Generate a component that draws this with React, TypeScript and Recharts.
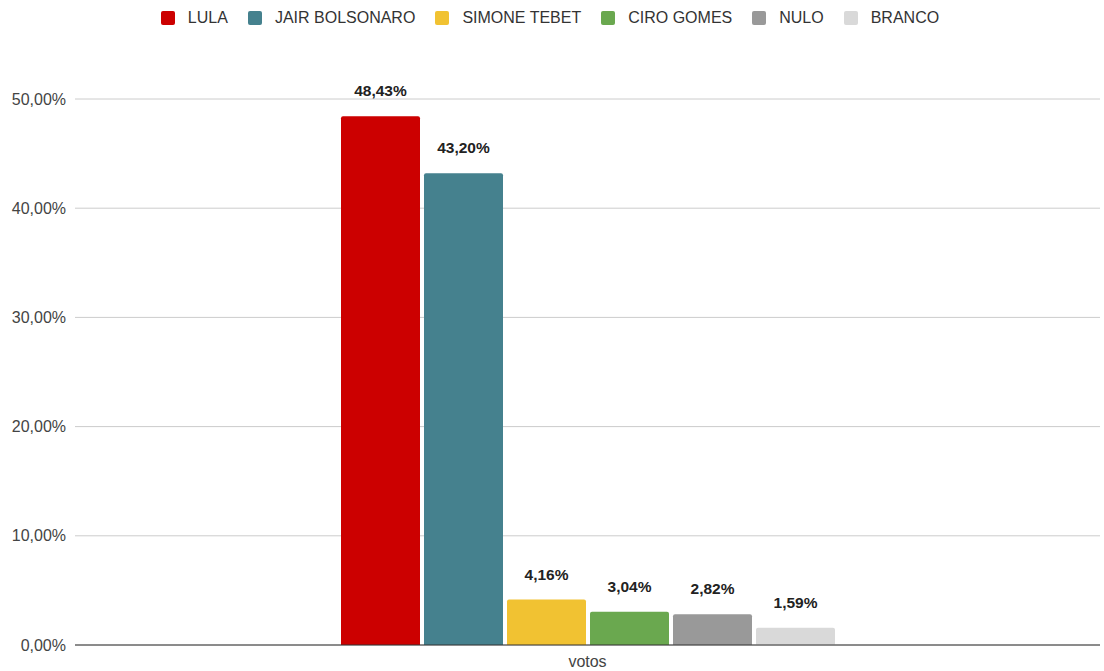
import { BarChart, Bar, XAxis, YAxis, CartesianGrid, Legend, LabelList } from "recharts";

const CATEGORY = "votos";
const SERIES = ["LULA", "JAIR BOLSONARO", "SIMONE TEBET", "CIRO GOMES", "NULO", "BRANCO"];
const VALUES = [48.43, 43.2, 4.16, 3.04, 2.82, 1.59];
const COLORS = ["#cc0000", "#45818e", "#f1c232", "#6aa84f", "#999999", "#d9d9d9"];
const Y_TICKS = [0, 10, 20, 30, 40, 50];

const FONT = "'Liberation Sans', Arial, sans-serif";

const pct = (v: number) => `${v.toFixed(2).replace(".", ",")}%`;

function LegendRow() {
  return (
    <div
      style={{
        display: "flex",
        justifyContent: "center",
        alignItems: "center",
        fontFamily: FONT,
        fontSize: 16,
        lineHeight: "18px",
        color: "#333",
      }}
    >
      {SERIES.map((s, i) => (
        <div key={s} style={{ display: "flex", alignItems: "center", marginRight: i < SERIES.length - 1 ? 20 : 0 }}>
          <span
            style={{
              display: "inline-block",
              width: 14,
              height: 14,
              borderRadius: 2,
              background: COLORS[i],
              marginRight: 13,
            }}
          />
          <span>{s}</span>
        </div>
      ))}
    </div>
  );
}

export default function App() {
  const row: Record<string, string | number> = { name: CATEGORY };
  SERIES.forEach((s, i) => {
    row[s] = VALUES[i];
  });
  const data = [row];

  return (
    <div style={{ position: "absolute", left: 0, top: 0, background: "#fff" }}>
      <BarChart
        width={1104}
        height={671}
        data={data}
        margin={{ top: 81, right: 4, bottom: 0, left: 0 }}
        barSize={79}
        barGap={4}
      >
        <CartesianGrid vertical={false} stroke="#cccccc" />
        <XAxis
          dataKey="name"
          height={26}
          tickLine={false}
          axisLine={{ stroke: "#333333" }}
          tick={{ fontSize: 16, fill: "#444", fontFamily: FONT }}
          tickMargin={5}
        />
        <YAxis
          width={75}
          domain={[0, 50]}
          ticks={Y_TICKS}
          tickFormatter={(v: number) => pct(v)}
          axisLine={false}
          tickLine={false}
          tickMargin={3}
          tick={{ fontSize: 16, fill: "#444", fontFamily: FONT }}
        />
        <Legend verticalAlign="top" align="center" content={() => <LegendRow />} wrapperStyle={{ top: 9 }} />
        {SERIES.map((s, i) => (
          <Bar key={s} dataKey={s} fill={COLORS[i]} radius={[2, 2, 0, 0]} isAnimationActive={false}>
            <LabelList
              dataKey={s}
              position="top"
              offset={20}
              formatter={(v: number) => pct(v)}
              style={{ fontSize: 15.5, fontWeight: 700, fill: "#222", fontFamily: FONT }}
            />
          </Bar>
        ))}
      </BarChart>
    </div>
  );
}
